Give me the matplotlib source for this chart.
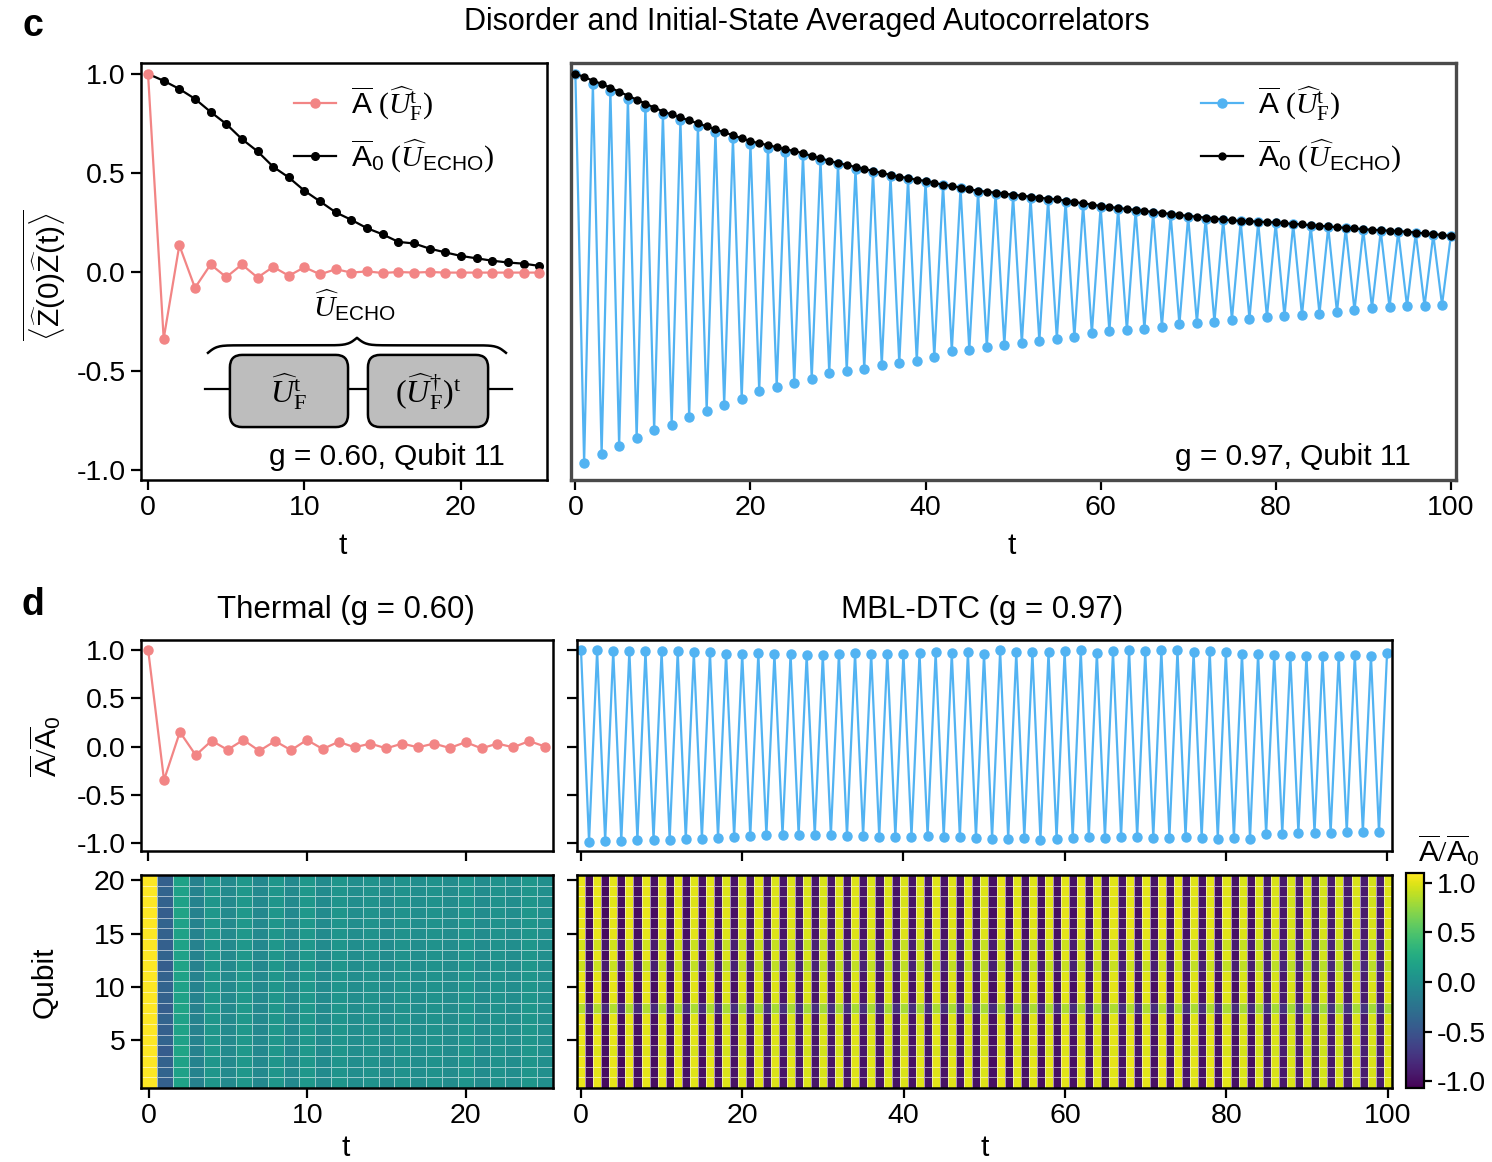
import numpy as np
import matplotlib
matplotlib.use('Agg')
import matplotlib.pyplot as plt
from matplotlib.patches import FancyBboxPatch

plt.rcParams['font.family'] = ['Liberation Sans', 'DejaVu Sans']
plt.rcParams['mathtext.fontset'] = 'custom'
plt.rcParams['mathtext.rm'] = 'Liberation Serif'
plt.rcParams['mathtext.it'] = 'Liberation Serif:italic'
plt.rcParams['mathtext.sf'] = 'Liberation Sans'
plt.rcParams['mathtext.bf'] = 'Liberation Serif:bold'
plt.rcParams['axes.unicode_minus'] = False

# ---- data ----
t_short = np.arange(26)
t_long = np.arange(101)

# g = 0.60, qubit 11
A_thermal = [1.0, -0.337, 0.135, -0.08, 0.038, -0.026, 0.038, -0.028, 0.026, -0.019,
             0.024, -0.012, 0.014, -0.003, 0.003, -0.005, 0.0, -0.003, 0.0, -0.003,
             -0.003, -0.003, -0.003, -0.003, -0.003, -0.003]
A0_thermal = [1.0, 0.965, 0.924, 0.874, 0.808, 0.747, 0.671, 0.609, 0.531, 0.477,
              0.41, 0.356, 0.301, 0.263, 0.221, 0.19, 0.152, 0.144, 0.118, 0.099,
              0.081, 0.069, 0.057, 0.048, 0.042, 0.031]

# g = 0.97, qubit 11
A_dtc = [1.0, -0.965, 0.95, -0.92, 0.915, -0.88, 0.875, -0.84, 0.835, -0.80, 0.795,
         -0.77, 0.765, -0.73, 0.735, -0.70, 0.705, -0.67, 0.675, -0.64, 0.645,
         -0.60, 0.625, -0.58, 0.605, -0.56, 0.59, -0.54, 0.565, -0.51, 0.545,
         -0.50, 0.52, -0.49, 0.505, -0.47, 0.485, -0.46, 0.47, -0.45, 0.455,
         -0.43, 0.44, -0.40, 0.425, -0.395, 0.405, -0.38, 0.395, -0.37, 0.385,
         -0.36, 0.375, -0.35, 0.365, -0.337, 0.355, -0.33, 0.34, -0.31, 0.33,
         -0.30, 0.32, -0.295, 0.31, -0.287, 0.30, -0.278, 0.29, -0.265, 0.28,
         -0.256, 0.27, -0.253, 0.262, -0.241, 0.255, -0.236, 0.25, -0.228, 0.245,
         -0.223, 0.24, -0.219, 0.232, -0.211, 0.227, -0.203, 0.22, -0.194, 0.213,
         -0.182, 0.207, -0.178, 0.203, -0.173, 0.196, -0.173, 0.188, -0.166, 0.18]
A0_dtc = [1.0, 0.985, 0.965, 0.95, 0.93, 0.91, 0.89, 0.87, 0.85, 0.83, 0.81,
          0.795, 0.78, 0.765, 0.75, 0.735, 0.72, 0.705, 0.69, 0.675, 0.66,
          0.65, 0.64, 0.63, 0.62, 0.61, 0.60, 0.585, 0.575, 0.56, 0.55,
          0.54, 0.53, 0.52, 0.51, 0.50, 0.49, 0.48, 0.475, 0.465, 0.46,
          0.45, 0.44, 0.435, 0.425, 0.417, 0.41, 0.405, 0.40, 0.395, 0.39,
          0.385, 0.38, 0.375, 0.37, 0.367, 0.36, 0.353, 0.347, 0.34, 0.333,
          0.328, 0.323, 0.318, 0.313, 0.308, 0.303, 0.298, 0.293, 0.288, 0.283,
          0.279, 0.274, 0.27, 0.265, 0.261, 0.258, 0.256, 0.254, 0.252, 0.25,
          0.246, 0.243, 0.24, 0.236, 0.233, 0.23, 0.226, 0.223, 0.22, 0.216,
          0.213, 0.211, 0.208, 0.206, 0.203, 0.199, 0.195, 0.191, 0.187, 0.182]

# normalized A / A0
ratio_thermal = [1.0, -0.346, 0.15, -0.09, 0.06, -0.034, 0.068, -0.045, 0.056, -0.038,
                 0.068, -0.026, 0.049, -0.008, 0.03, -0.019, 0.03, -0.008, 0.03, -0.015,
                 0.045, -0.019, 0.03, -0.008, 0.056, 0.0]
ratio_dtc = [1.0, -0.986, 0.995, -0.976, 0.99, -0.976, 0.99, -0.962, 0.99, -0.962, 0.983,
             -0.962, 0.983, -0.955, 0.972, -0.952, 0.972, -0.941, 0.96, -0.934, 0.96,
             -0.927, 0.965, -0.917, 0.96, -0.917, 0.96, -0.914, 0.948, -0.917, 0.948,
             -0.917, 0.96, -0.927, 0.965, -0.927, 0.96, -0.934, 0.96, -0.934, 0.96,
             -0.934, 0.965, -0.927, 0.972, -0.934, 0.965, -0.934, 0.972, -0.941, 0.96,
             -0.952, 0.993, -0.952, 0.972, -0.941, 0.972, -0.962, 0.972, -0.952, 0.983,
             -0.941, 0.993, -0.934, 0.965, -0.941, 0.983, -0.934, 0.993, -0.934, 0.983,
             -0.941, 0.993, -0.941, 0.993, -0.934, 0.972, -0.941, 0.983, -0.952, 0.972,
             -0.941, 0.959, -0.952, 0.959, -0.907, 0.948, -0.900, 0.938, -0.893, 0.938,
             -0.893, 0.931, -0.893, 0.938, -0.886, 0.948, -0.883, 0.938, -0.883, 0.965]

# per-qubit contrast (qubits 1..20)
qubits = np.arange(1, 21)
contrast_thermal = [1.2, 1.1, 1.15, 1.3, 1.1, 1.2, 1.1, 1.25, 1.15, 1.1,
                    1.15, 1.25, 1.1, 1.2, 1.15, 1.1, 1.25, 1.15, 1.1, 1.2]
contrast_dtc = [1.03, 1.02, 1.04, 1.0, 1.03, 1.01, 1.02, 0.85, 1.02, 1.03,
                1.01, 0.93, 1.02, 0.95, 1.03, 1.02, 1.04, 1.01, 1.03, 1.02]

heat_thermal = np.outer(contrast_thermal, ratio_thermal)
heat_dtc = np.outer(contrast_dtc, ratio_dtc)

pink = '#F28585'
blue = '#52B3F2'
tick_lab = ['-1.0', '-0.5', '0.0', '0.5', '1.0']
yt = [-1, -0.5, 0, 0.5, 1]
fs_tick = 20.5
fs = 21.5

lab_A = r'$\overline{\mathsf{A}}\ (\widehat{U}_{\mathrm{F}}^{\mathrm{t}})$'
lab_A0 = r'$\overline{\mathsf{A}}_{\mathsf{0}}\ (\widehat{U}_{\mathsf{ECHO}})$'

fig = plt.figure(figsize=(14.92, 11.62), dpi=100)

ax_c1 = fig.add_axes([0.0945, 0.5869, 0.2721, 0.3589])
ax_c2 = fig.add_axes([0.3827, 0.5869, 0.5932, 0.3589])
ax_d1 = fig.add_axes([0.0945, 0.2676, 0.2761, 0.1816])
ax_d2 = fig.add_axes([0.3867, 0.2676, 0.5462, 0.1816])
ax_h1 = fig.add_axes([0.0945, 0.0637, 0.2761, 0.1833])
ax_h2 = fig.add_axes([0.3867, 0.0637, 0.5462, 0.1833])
cax = fig.add_axes([0.9424, 0.0637, 0.0121, 0.185])

for ax in [ax_c1, ax_c2, ax_d1, ax_d2, ax_h1, ax_h2]:
    ax.tick_params(direction='out', length=7, width=1.6, labelsize=fs_tick, pad=4)
    for s in ax.spines.values():
        s.set_linewidth(1.8)

# ---- c, left ----
ax_c1.plot(t_short, A_thermal, '-o', color=pink, ms=6.5, lw=1.6, label=lab_A, zorder=3)
ax_c1.plot(t_short, A0_thermal, '-o', color='black', ms=5.5, lw=1.6, label=lab_A0, zorder=2)
ax_c1.set_xlim(-0.45, 25.5)
ax_c1.set_ylim(-1.05, 1.055)
ax_c1.set_xticks([0, 10, 20])
ax_c1.set_yticks(yt)
ax_c1.set_yticklabels(tick_lab)
ax_c1.legend(loc='upper left', bbox_to_anchor=(0.34, 0.985), frameon=False, fontsize=fs,
             handlelength=1.4, handletextpad=0.5, labelspacing=0.5, borderpad=0)
ax_c1.text(0.897, 0.055, 'g = 0.60, Qubit 11', transform=ax_c1.transAxes,
           ha='right', va='center', fontsize=fs)

# echo circuit sketch
tr = ax_c1.transAxes
ax_c1.plot([0.158, 0.914], [0.218, 0.218], color='black', lw=1.6, transform=tr, zorder=4)
for x0, x1, txt in [(0.219, 0.510, r'$\widehat{U}_{\mathrm{F}}^{\mathrm{t}}$'),
                    (0.559, 0.855, r'$(\widehat{U}_{\mathrm{F}}^{\dagger})^{\mathrm{t}}$')]:
    box = FancyBboxPatch((x0, 0.127), x1 - x0, 0.173, boxstyle='round,pad=0,rounding_size=0.03',
                         transform=tr, facecolor='#BDBDBD', edgecolor='black', lw=1.8, zorder=5)
    ax_c1.add_patch(box)
    ax_c1.text((x0 + x1) / 2, 0.213, txt, transform=tr, ha='center', va='center',
               fontsize=23, zorder=6)

# curly brace over the two boxes
bx0, bx1, by, bh = 0.165, 0.899, 0.305, 0.036
n = 201
xs = np.linspace(bx0, bx1, n)
xh = xs[:n // 2 + 1]
beta = 90.0
yh = 1 / (1 + np.exp(-beta * (xh - xh[0]))) + 1 / (1 + np.exp(-beta * (xh - xh[-1])))
ys = np.concatenate((yh, yh[-2::-1]))
ax_c1.plot(xs, by + bh * (ys - 0.5), color='black', lw=1.8, transform=tr, zorder=4)
ax_c1.text(0.527, 0.42, r'$\widehat{U}_{\mathsf{ECHO}}$', transform=tr, ha='center',
           va='center', fontsize=fs)

# ---- c, right ----
ax_c2.plot(t_long, A_dtc, '-o', color=blue, ms=6.5, lw=1.6, label=lab_A, zorder=2)
ax_c2.plot(t_long, A0_dtc, '-o', color='black', ms=5, lw=1.6, label=lab_A0, zorder=3)
ax_c2.set_xlim(-0.5, 100.6)
ax_c2.set_ylim(-1.05, 1.055)
ax_c2.set_xticks([0, 20, 40, 60, 80, 100])
ax_c2.tick_params(left=False, labelleft=False)
for s in ax_c2.spines.values():
    s.set_color('#4a4a4a')
    s.set_linewidth(2.4)
ax_c2.legend(loc='upper left', bbox_to_anchor=(0.695, 0.985), frameon=False, fontsize=fs,
             handlelength=1.4, handletextpad=0.5, labelspacing=0.5, borderpad=0)
ax_c2.text(0.949, 0.055, 'g = 0.97, Qubit 11', transform=ax_c2.transAxes,
           ha='right', va='center', fontsize=fs)

# ---- d, top ----
ax_d1.plot(t_short, ratio_thermal, '-o', color=pink, ms=6.5, lw=1.6)
ax_d1.set_xlim(-0.45, 25.5)
ax_d1.set_ylim(-1.08, 1.10)
ax_d1.set_xticks([0, 10, 20])
ax_d1.set_xticklabels([])
ax_d1.set_yticks(yt)
ax_d1.set_yticklabels(tick_lab)

ax_d2.plot(t_long, ratio_dtc, '-o', color=blue, ms=6.5, lw=1.6)
ax_d2.set_xlim(-0.5, 100.6)
ax_d2.set_ylim(-1.08, 1.10)
ax_d2.set_xticks([0, 20, 40, 60, 80, 100])
ax_d2.set_xticklabels([])
ax_d2.set_yticks(yt)
ax_d2.set_yticklabels([])

# ---- d, heatmaps ----
vmin, vmax = -1.07, 1.1
grid = (1, 1, 1, 0.55)
m1 = ax_h1.pcolormesh(t_short, qubits, heat_thermal, cmap='viridis', vmin=vmin, vmax=vmax,
                      shading='nearest', edgecolors=grid, linewidth=0.7)
ax_h1.set_xlim(-0.5, 25.5)
ax_h1.set_ylim(0.5, 20.5)
ax_h1.set_xticks([0, 10, 20])
ax_h1.set_yticks([5, 10, 15, 20])

m2 = ax_h2.pcolormesh(t_long, qubits, heat_dtc, cmap='viridis', vmin=vmin, vmax=vmax,
                      shading='nearest', edgecolors=grid, linewidth=0.6)
ax_h2.set_xlim(-0.5, 100.5)
ax_h2.set_ylim(0.5, 20.5)
ax_h2.set_xticks([0, 20, 40, 60, 80, 100])
ax_h2.set_yticks([5, 10, 15, 20])
ax_h2.set_yticklabels([])

cb = fig.colorbar(m2, cax=cax, ticks=yt)
cb.ax.set_yticklabels(tick_lab)
cb.ax.tick_params(direction='out', length=6, width=1.6, labelsize=fs_tick, pad=3)
cb.outline.set_linewidth(1.6)
fig.text(0.971, 0.268, r'$\overline{\mathsf{A}}/\overline{\mathsf{A}}_{\mathsf{0}}$',
         ha='center', va='center', fontsize=fs)

# ---- figure labels ----
fig.text(0.022, 0.978, 'c', fontsize=27, fontweight='bold', ha='center', va='center')
fig.text(0.022, 0.479, 'd', fontsize=27, fontweight='bold', ha='center', va='center')
fig.text(0.541, 0.981, 'Disorder and Initial-State Averaged Autocorrelators',
         fontsize=22, ha='center', va='center')
fig.text(0.232, 0.475, 'Thermal (g = 0.60)', fontsize=22.5, ha='center', va='center')
fig.text(0.658, 0.475, 'MBL-DTC (g = 0.97)', fontsize=22.5, ha='center', va='center')

fig.text(0.030, 0.763,
         r'$\overline{\langle \widehat{\mathsf{Z}}\mathsf{(0)}\widehat{\mathsf{Z}}\mathsf{(t)} \rangle}$',
         rotation=90, fontsize=fs, ha='center', va='center')
fig.text(0.030, 0.358, r'$\overline{\mathsf{A}}/\overline{\mathsf{A}}_{\mathsf{0}}$',
         rotation=90, fontsize=fs, ha='center', va='center')
fig.text(0.030, 0.155, 'Qubit', rotation=90, fontsize=fs, ha='center', va='center')

for x, y in [(0.230, 0.530), (0.678, 0.530), (0.232, 0.012), (0.660, 0.012)]:
    fig.text(x, y, 't', fontsize=fs, ha='center', va='center')

fig.savefig('out.png', dpi=100)
